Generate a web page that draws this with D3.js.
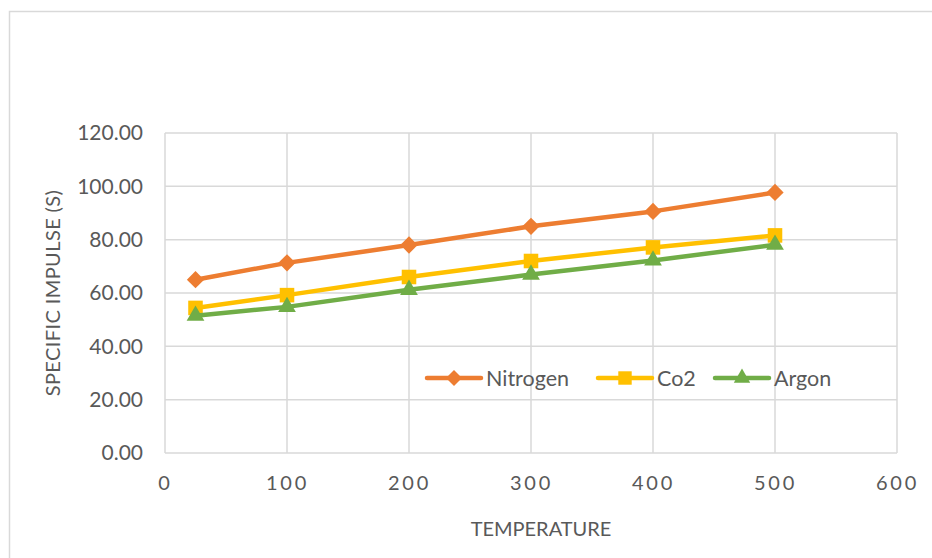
<!DOCTYPE html>
<html>
<head>
<meta charset="utf-8">
<title>Specific Impulse</title>
<script src="https://d3js.org/d3.v7.min.js"></script>
<style>
  body { margin: 0; background: #fff; }
  text { font-family: Lato, "Open Sans", sans-serif; fill: #595959; }
  .grid line { stroke: #d9d9d9; stroke-width: 1.5; }
  .axis path, .axis line { display: none; }
  .axis--x text { letter-spacing: 2.8px; }
</style>
</head>
<body>
<svg width="932" height="558"></svg>
<script>
// data
var temperature = [25, 100, 200, 300, 400, 500];
var nitrogen = [65.0, 71.3, 78.0, 85.0, 90.6, 97.7];
var co2 = [54.4, 59.2, 66.0, 72.0, 77.1, 81.6];
var argon = [51.5, 54.8, 61.2, 66.9, 72.2, 78.1];
var xTicks = [0, 100, 200, 300, 400, 500, 600];
var yTicks = [0, 20, 40, 60, 80, 100, 120];

var series = [
  { name: "Nitrogen", values: nitrogen, color: "#ED7D31", symbol: d3.symbolDiamond2, size: 190 },
  { name: "Co2", values: co2, color: "#FFC000", symbol: d3.symbolSquare2, size: 270 },
  { name: "Argon", values: argon, color: "#70AD47", symbol: d3.symbolTriangle2, size: 225 }
];

var svg = d3.select("svg");

// chart frame (runs past the window on right and bottom)
svg.append("rect")
    .attr("x", 9.5).attr("y", 11.5)
    .attr("width", 940).attr("height", 560)
    .attr("fill", "#fff")
    .attr("stroke", "#d9d9d9")
    .attr("stroke-width", 1.5);

var margin = { left: 165, top: 133, right: 35, bottom: 105 },
    width = 932 - margin.left - margin.right,
    height = 558 - margin.top - margin.bottom;

var x = d3.scaleLinear().domain([0, 600]).range([0, width]);
var y = d3.scaleLinear().domain([0, 120]).range([height, 0]);

var g = svg.append("g").attr("transform", "translate(" + margin.left + "," + margin.top + ")");

// gridlines
var grid = g.append("g").attr("class", "grid");
grid.selectAll("line.h").data(yTicks).enter().append("line")
    .attr("class", "h")
    .attr("x1", 0).attr("x2", width)
    .attr("y1", function(d) { return y(d); })
    .attr("y2", function(d) { return y(d); });
grid.selectAll("line.v").data(xTicks).enter().append("line")
    .attr("class", "v")
    .attr("y1", 0).attr("y2", height)
    .attr("x1", function(d) { return x(d); })
    .attr("x2", function(d) { return x(d); });

g.append("g")
    .attr("class", "axis axis--x")
    .attr("transform", "translate(0," + height + ")")
    .call(d3.axisBottom(x).tickValues(xTicks).tickSize(0).tickPadding(23))
    .selectAll("text").style("font-size", "20px");

g.append("g")
    .attr("class", "axis axis--y")
    .call(d3.axisLeft(y).tickValues(yTicks).tickSize(0).tickPadding(22).tickFormat(d3.format(".2f")))
    .selectAll("text").style("font-size", "21px");

// axis titles
svg.append("text")
    .attr("x", margin.left + x(300) + 10)
    .attr("y", 536)
    .attr("text-anchor", "middle")
    .style("font-size", "20px")
    .text("TEMPERATURE");

svg.append("text")
    .attr("transform", "translate(60," + (margin.top + y(60)) + ") rotate(-90)")
    .attr("text-anchor", "middle")
    .style("font-size", "20px")
    .style("letter-spacing", "0.4px")
    .text("SPECIFIC  IMPULSE (S)");

var line = d3.line()
    .x(function(d, i) { return x(temperature[i]); })
    .y(function(d) { return y(d); });

series.forEach(function(s) {
  g.append("path")
      .datum(s.values)
      .attr("fill", "none")
      .attr("stroke", s.color)
      .attr("stroke-width", 4.5)
      .attr("stroke-linejoin", "round")
      .attr("stroke-linecap", "round")
      .attr("d", line);

  g.selectAll(null)
      .data(s.values).enter().append("path")
      .attr("transform", function(d, i) { return "translate(" + x(temperature[i]) + "," + y(d) + ")"; })
      .attr("d", d3.symbol().type(s.symbol).size(s.size))
      .attr("fill", s.color);
});

// legend
var legendX = [427, 598, 715];
var legend = svg.append("g").attr("transform", "translate(0,378)");
series.forEach(function(s, i) {
  var lg = legend.append("g").attr("transform", "translate(" + legendX[i] + ",0)");
  lg.append("line")
      .attr("x1", 0).attr("x2", 54)
      .attr("stroke", s.color).attr("stroke-width", 4.5).attr("stroke-linecap", "round");
  lg.append("path")
      .attr("transform", "translate(27,0)")
      .attr("d", d3.symbol().type(s.symbol).size(s.size * 0.85))
      .attr("fill", s.color);
  lg.append("text")
      .attr("x", 59).attr("y", 7.5)
      .style("font-size", "21.5px")
      .text(s.name);
});
</script>
</body>
</html>
